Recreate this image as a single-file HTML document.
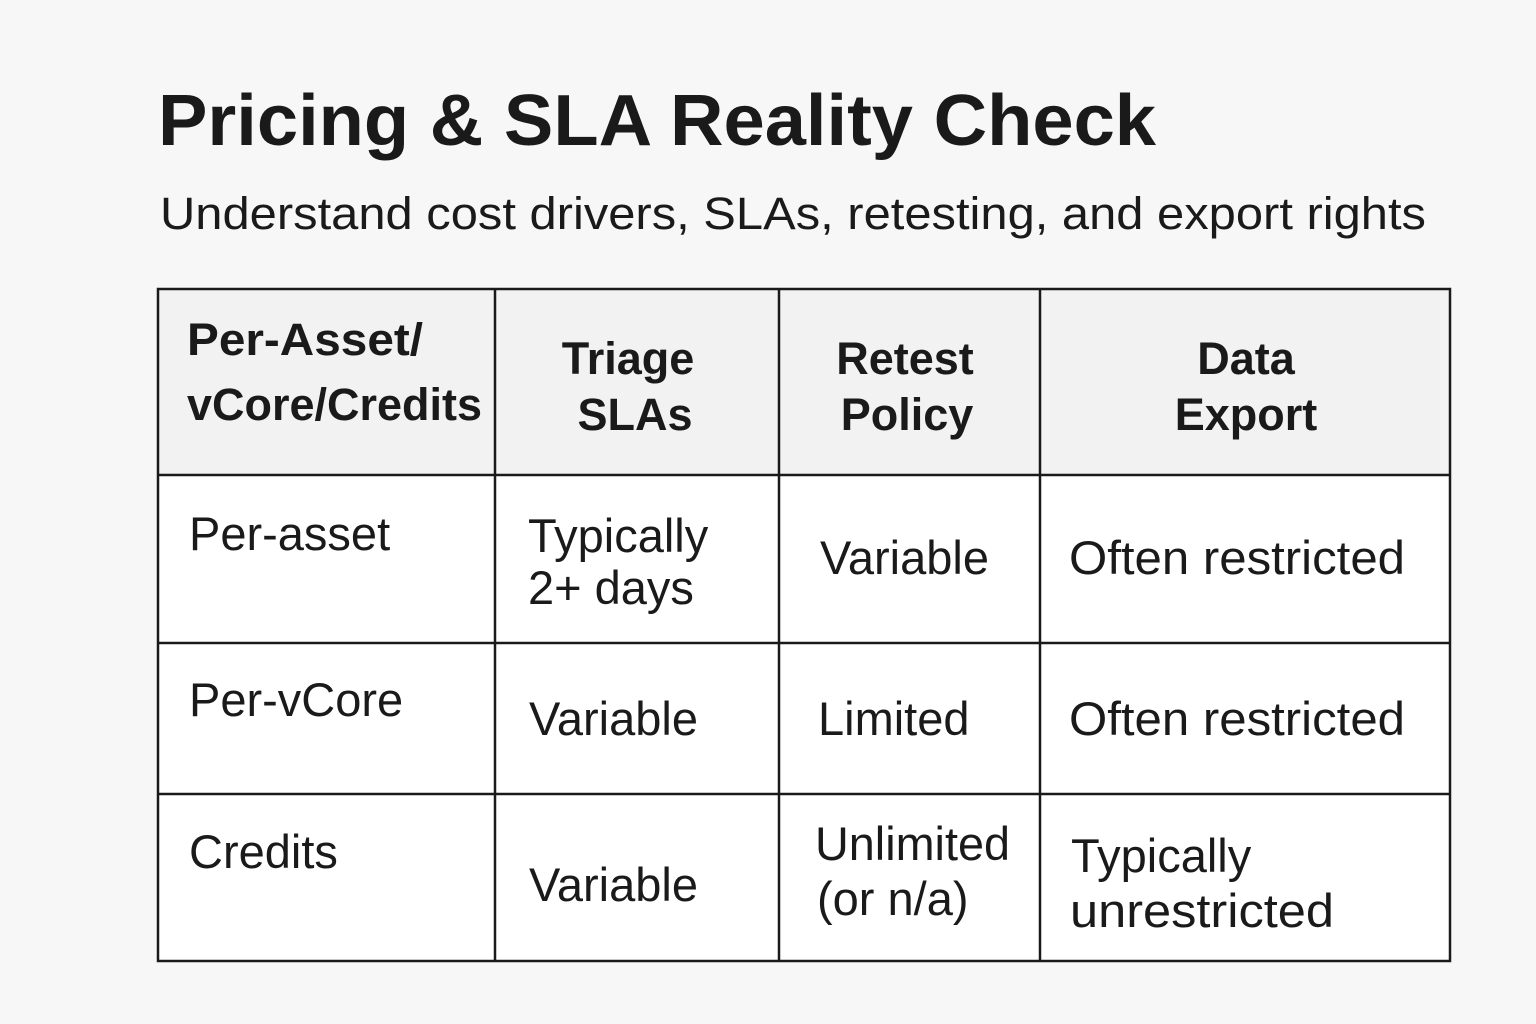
<!DOCTYPE html>
<html><head><meta charset="utf-8"><style>
html,body{margin:0;padding:0;background:#f7f7f7;}
svg{display:block}
text{font-family:"Liberation Sans",sans-serif;fill:#1a1a1a}
.h{font-weight:bold;font-size:45px}
.b{font-size:47px}
</style></head><body>
<svg width="1536" height="1024" viewBox="0 0 1536 1024">
<rect width="1536" height="1024" fill="#f7f7f7"/>
<text x="158" y="145" font-size="72" font-weight="bold" textLength="998" lengthAdjust="spacingAndGlyphs">Pricing &amp; SLA Reality Check</text>
<text x="160" y="229" font-size="45" textLength="1266" lengthAdjust="spacingAndGlyphs">Understand cost drivers, SLAs, retesting, and export rights</text>
<rect x="158" y="289" width="1292" height="186" fill="#f2f2f2"/>
<rect x="158" y="475" width="1292" height="486" fill="#ffffff"/>
<g stroke="#1a1a1a" stroke-width="2.5" fill="none">
<rect x="158" y="289" width="1292" height="672"/>
<line x1="495" y1="289" x2="495" y2="961"/>
<line x1="779" y1="289" x2="779" y2="961"/>
<line x1="1040" y1="289" x2="1040" y2="961"/>
<line x1="158" y1="475" x2="1450" y2="475"/>
<line x1="158" y1="643" x2="1450" y2="643"/>
<line x1="158" y1="794" x2="1450" y2="794"/>
</g>
<text class="h" x="187" y="355" textLength="236" lengthAdjust="spacingAndGlyphs">Per-Asset/</text>
<text class="h" x="187" y="420" textLength="295" lengthAdjust="spacingAndGlyphs">vCore/Credits</text>
<text class="h" x="628" y="374" text-anchor="middle">Triage</text>
<text class="h" x="635" y="430" text-anchor="middle">SLAs</text>
<text class="h" x="905" y="374" text-anchor="middle">Retest</text>
<text class="h" x="907" y="430" text-anchor="middle">Policy</text>
<text class="h" x="1246" y="374" text-anchor="middle">Data</text>
<text class="h" x="1246" y="430" text-anchor="middle">Export</text>

<text class="b" x="189" y="550">Per-asset</text>
<text class="b" x="528" y="552">Typically</text>
<text class="b" x="528" y="604">2+ days</text>
<text class="b" x="820" y="574">Variable</text>
<text class="b" x="1069" y="574" textLength="336" lengthAdjust="spacingAndGlyphs">Often restricted</text>

<text class="b" x="189" y="716">Per-vCore</text>
<text class="b" x="529" y="735">Variable</text>
<text class="b" x="818" y="735">Limited</text>
<text class="b" x="1069" y="735" textLength="336" lengthAdjust="spacingAndGlyphs">Often restricted</text>

<text class="b" x="189" y="868">Credits</text>
<text class="b" x="529" y="901">Variable</text>
<text class="b" x="815" y="860" textLength="195" lengthAdjust="spacingAndGlyphs">Unlimited</text>
<text class="b" x="817" y="915">(or n/a)</text>
<text class="b" x="1071" y="872">Typically</text>
<text class="b" x="1070" y="927" textLength="264" lengthAdjust="spacingAndGlyphs">unrestricted</text>
</svg>
</body></html>
